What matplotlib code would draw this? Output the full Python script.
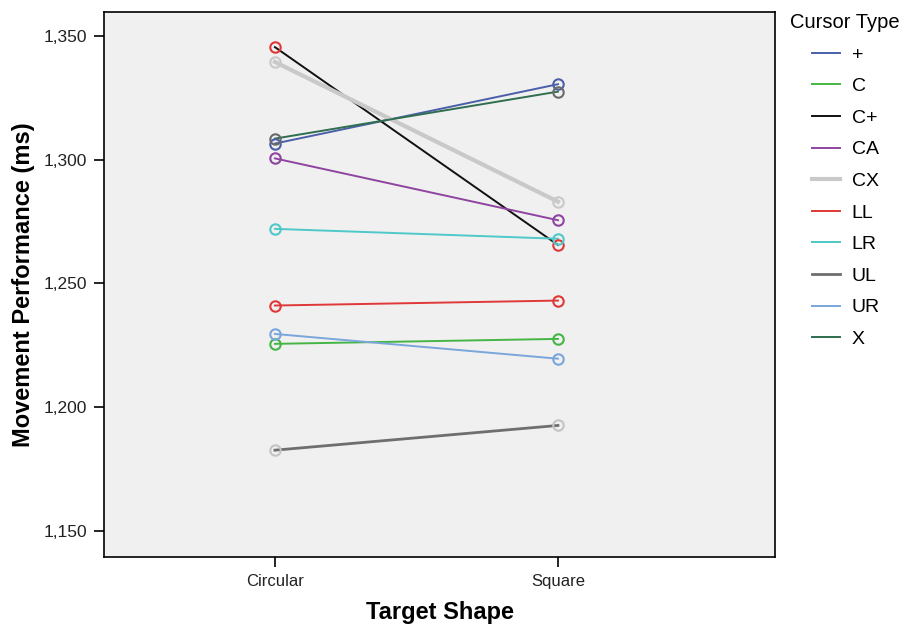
import matplotlib

matplotlib.use("Agg")
import matplotlib.pyplot as plt

plt.rcParams["font.family"] = ["Liberation Sans", "DejaVu Sans"]

# target shapes on the x axis
shapes = ["Circular", "Square"]

# mean movement performance (ms) per cursor type: (circular, square)
cursor_types = ["+", "C", "C+", "CA", "CX", "LL", "LR", "UL", "UR", "X"]
plus_vals = [1306.5, 1330.5]
c_vals = [1225.5, 1227.5]
cplus_vals = [1345.5, 1265.5]
ca_vals = [1300.5, 1275.5]
cx_vals = [1339.5, 1283.0]
ll_vals = [1241.0, 1243.0]
lr_vals = [1272.0, 1268.0]
ul_vals = [1182.5, 1192.5]
ur_vals = [1229.5, 1219.5]
x_vals = [1308.5, 1327.5]

series = [plus_vals, c_vals, cplus_vals, ca_vals, cx_vals,
          ll_vals, lr_vals, ul_vals, ur_vals, x_vals]

# (line colour, marker colour, line width)
STYLES = {
    "+": ("#4a5fa8", "#4a5fa8", 1.4),
    "C": ("#45b545", "#45b545", 1.4),
    "C+": ("#111111", "#e03838", 1.4),
    "CA": ("#8e44a0", "#8e44a0", 1.4),
    "CX": ("#c9c9c9", "#c9c9c9", 3.0),
    "LL": ("#e03838", "#e03838", 1.4),
    "LR": ("#4ec8c8", "#4ec8c8", 1.4),
    "UL": ("#6e6e6e", "#c4c4c4", 2.0),
    "UR": ("#7aa6dc", "#7aa6dc", 1.4),
    "X": ("#2f6e4e", "#6a6a6a", 1.4),
}

W, H = 906, 637
fig = plt.figure(figsize=(W / 100, H / 100), dpi=100)
ax = fig.add_axes([104 / W, 1 - 557 / H, 671 / W, 545 / H])
ax.set_facecolor("#f0f0f0")

xs = [1, 2]
for name, vals in zip(cursor_types, series):
    lc, mc, lw = STYLES[name]
    ax.plot(xs, vals, color=lc, linewidth=lw, label=name, zorder=2)
    ax.plot(xs, vals, linestyle="none", marker="o", markersize=7.5,
            markerfacecolor="none", markeredgecolor=mc,
            markeredgewidth=1.5, zorder=3)

ax.set_xlim(0.396, 2.767)
ax.set_ylim(1139.3, 1359.7)
ax.set_xticks(xs)
ax.set_xticklabels(shapes, fontsize=12, color="#222222")
yt = [1150, 1200, 1250, 1300, 1350]
ax.set_yticks(yt)
ax.set_yticklabels([f"{v:,}" for v in yt], fontsize=12.5, color="#222222")
ax.tick_params(direction="out", length=7, width=1.2, pad=5)
for sp in ax.spines.values():
    sp.set_linewidth(1.2)

ax.set_xlabel("Target Shape", fontsize=17, fontweight="bold", labelpad=9)
ax.set_ylabel("Movement Performance (ms)", fontsize=17, fontweight="bold",
              labelpad=6)

fig.text(790 / W, 1 - 22 / H, "Cursor Type", fontsize=14.5, va="center",
         ha="left")
ax.legend(loc="upper left", bbox_to_anchor=(812 / W, 1 - 46 / H),
          bbox_transform=fig.transFigure, frameon=False, fontsize=14,
          handlelength=1.45, handletextpad=0.6, labelspacing=0.72,
          borderaxespad=0, borderpad=0)

fig.savefig("out.png", dpi=100)
